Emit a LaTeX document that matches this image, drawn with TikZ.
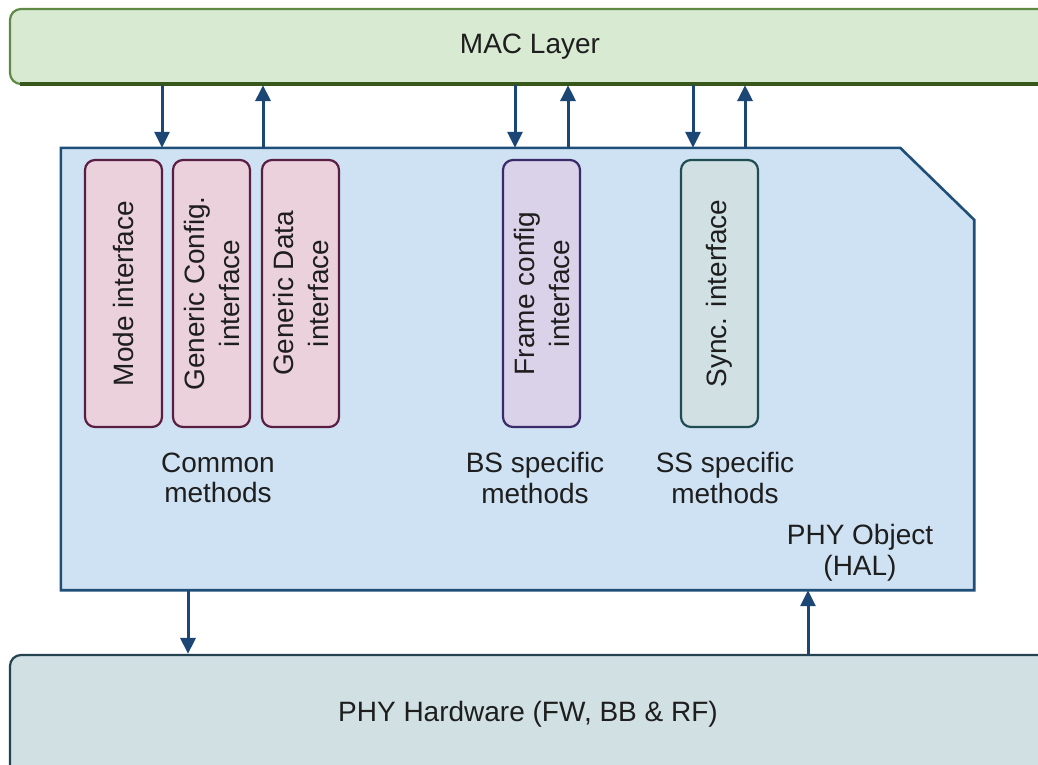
\documentclass[tikz,border=0pt]{standalone}
\usepackage{fontspec}
\setmainfont{Liberation Sans}
\usetikzlibrary{arrows.meta}

\definecolor{macfill}{HTML}{D9EAD3}
\definecolor{macline}{HTML}{5F8A45}
\definecolor{macdark}{HTML}{38571A}
\definecolor{objfill}{HTML}{CFE2F3}
\definecolor{objline}{HTML}{1F4E79}
\definecolor{hwfill}{HTML}{D0E0E3}
\definecolor{hwline}{HTML}{22434F}
\definecolor{pinkfill}{HTML}{EAD1DC}
\definecolor{pinkline}{HTML}{5A1E42}
\definecolor{lilacfill}{HTML}{D9D2E9}
\definecolor{lilacline}{HTML}{3A2A6A}
\definecolor{tealfill}{HTML}{D0E0E3}
\definecolor{tealline}{HTML}{1F4D52}
\definecolor{arrowcol}{HTML}{1C4775}
\definecolor{txt}{HTML}{1E1E1E}

\tikzset{
  layerbox/.style={rectangle, rounded corners=11pt, line width=2.2pt, inner sep=0pt},
  ifbox/.style={rectangle, rounded corners=10pt, line width=2.2pt,
    minimum width=77pt, minimum height=267pt, inner sep=0pt},
  commonif/.style={ifbox, draw=pinkline, fill=pinkfill},
  bsif/.style={ifbox, draw=lilacline, fill=lilacfill},
  ssif/.style={ifbox, draw=tealline, fill=tealfill},
  iftext/.style={rotate=90, align=center, font=\fontsize{28}{35}\selectfont, text=txt},
  lbl/.style={align=center, font=\fontsize{28}{30.5}\selectfont, text=txt, inner sep=0pt},
  arr/.style={draw=arrowcol, line width=3pt,
    -{Triangle[length=16pt, width=15pt]}},
}

\begin{document}
\begin{tikzpicture}[x=1pt, y=-1pt]
\useasboundingbox (0,0) rectangle (1038,765);
\clip (0,0) rectangle (1038,765);

% MAC layer (runs past the right edge)
\node[layerbox, draw=macline, fill=macfill, minimum width=1060pt, minimum height=75pt]
  (mac) at (540,46.5) {};
\draw[macdark, line width=3.2pt] (20,84) -- (1038,84);
\node[lbl] (macl) at (530,47) {MAC Layer};

% PHY hardware (runs past the right and bottom edges)
\node[layerbox, draw=hwline, fill=hwfill, minimum width=1060pt, minimum height=130pt]
  (hw) at (540,720) {};
\node[lbl] (hwl) at (528,714) {PHY Hardware (FW, BB \& RF)};

% PHY object outline with chamfered top-right corner
\node[minimum width=913pt, minimum height=442pt, inner sep=0pt] (obj) at (517.5,369) {};
\draw[objline, fill=objfill, line width=2.6pt]
  (obj.north west) -- ([xshift=-74pt]obj.north east)
  -- ([yshift=-72pt]obj.north east) -- (obj.south east)
  -- (obj.south west) -- cycle;

% interface blocks
\node[commonif] (mode) at (123.5,293.5) {};
\node[iftext] at (mode) {Mode interface};
\node[commonif] (gcfg) at (211.5,293.5) {};
\node[iftext] at (gcfg) {Generic Config.\\interface};
\node[commonif] (gdata) at (300.5,293.5) {};
\node[iftext] at (gdata) {Generic Data\\interface};
\node[bsif] (frame) at (541.5,293.5) {};
\node[iftext] at (frame) {Frame config\\interface};
\node[ssif] (sync) at (719.5,293.5) {};
\node[iftext] at (sync) {Sync. interface};

% group captions
\node[lbl] (common) at (218,478) {Common\\methods};
\node[lbl] (bs) at (535,478) {BS specific\\methods};
\node[lbl] (ss) at (725,478) {SS specific\\methods};
\node[lbl] (objl) at (860,552.5) {PHY Object\\(HAL)};

% arrow columns
\coordinate (d1) at (162,0);
\coordinate (u1) at (263,0);
\coordinate (d2) at (515,0);
\coordinate (u2) at (568,0);
\coordinate (d3) at (693,0);
\coordinate (u3) at (745,0);
\coordinate (dh) at (188,0);
\coordinate (uh) at (808,0);

\draw[arr] (mac.south -| d1) -- (obj.north -| d1);
\draw[arr] (obj.north -| u1) -- (mac.south -| u1);
\draw[arr] (mac.south -| d2) -- (obj.north -| d2);
\draw[arr] (obj.north -| u2) -- (mac.south -| u2);
\draw[arr] (mac.south -| d3) -- (obj.north -| d3);
\draw[arr] (obj.north -| u3) -- (mac.south -| u3);
\draw[arr] (obj.south -| dh) -- (hw.north -| dh);
\draw[arr] (hw.north -| uh) -- (obj.south -| uh);
\end{tikzpicture}
\end{document}
